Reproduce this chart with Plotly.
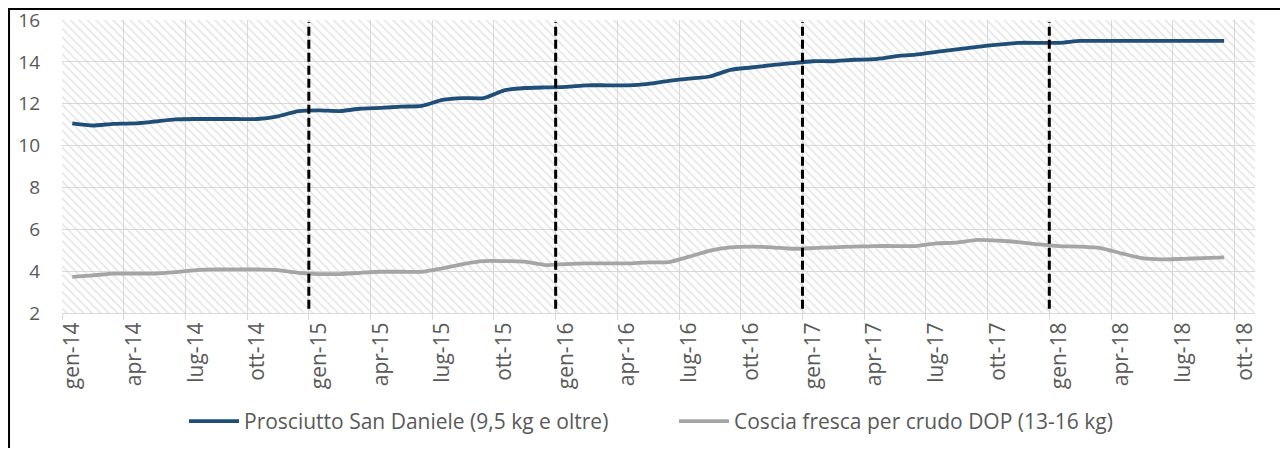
import plotly.graph_objects as go

# ---------------- data ----------------
month_names = ["gen", "feb", "mar", "apr", "mag", "giu", "lug", "ago", "set", "ott", "nov", "dic"]
first_year = 14
axis_slots = 58          # gen-14 ... ott-18 on the category axis

san_daniele = [
    11.06, 10.96, 11.04, 11.06, 11.15, 11.25, 11.27, 11.27, 11.27, 11.27, 11.40, 11.65,
    11.68, 11.65, 11.76, 11.80, 11.86, 11.90, 12.18, 12.27, 12.27, 12.64, 12.75, 12.78,
    12.80, 12.88, 12.88, 12.88, 12.95, 13.09, 13.20, 13.30, 13.62, 13.73, 13.84, 13.94,
    14.03, 14.03, 14.10, 14.13, 14.26, 14.35, 14.48, 14.60, 14.72, 14.82, 14.91, 14.91,
    14.91, 15.00, 15.00, 15.00, 15.00, 15.00, 15.00, 15.00, 15.00,
]
coscia = [
    3.73, 3.80, 3.88, 3.88, 3.88, 3.95, 4.05, 4.08, 4.08, 4.08, 4.05, 3.92,
    3.86, 3.86, 3.92, 3.97, 3.97, 3.97, 4.13, 4.34, 4.48, 4.48, 4.45, 4.29,
    4.34, 4.37, 4.37, 4.37, 4.42, 4.43, 4.69, 4.98, 5.14, 5.17, 5.14, 5.07,
    5.10, 5.14, 5.17, 5.20, 5.20, 5.20, 5.33, 5.36, 5.49, 5.46, 5.39, 5.28,
    5.20, 5.17, 5.10, 4.85, 4.62, 4.56, 4.59, 4.62, 4.66,
]
series_names = ["Prosciutto San Daniele (9,5 kg e oltre)", "Coscia fresca per crudo DOP (13-16 kg)"]
series_colors = ["#1F4E79", "#A5A5A5"]
year_marks = ["gen-15", "gen-16", "gen-17", "gen-18"]
mark_span = [2.2, 15.9]

# category labels
categories = [f"{month_names[k % 12]}-{first_year + k // 12}" for k in range(axis_slots)]
idx = list(range(len(san_daniele)))
label_idx = list(range(0, axis_slots, 3))
label_txt = [categories[k] for k in label_idx]
boundaries = [k - 0.5 for k in label_idx]

FONT = "Open Sans"
TXT = "#595959"
GRID = "#D9D9D9"

fig = go.Figure()

# hatched plot-area background
fig.add_trace(go.Bar(
    x=[0.5], y=[1], width=[1], xaxis="x", yaxis="y",
    marker=dict(color="rgba(0,0,0,0)", line=dict(width=0),
                pattern=dict(shape="\\", fgcolor="#CDCDCD", bgcolor="rgba(0,0,0,0)",
                             size=6, solidity=0.3)),
    showlegend=False, hoverinfo="skip"))

for vals, name, col in zip([san_daniele, coscia], series_names, series_colors):
    fig.add_trace(go.Scatter(
        x=idx, y=vals, xaxis="x2", yaxis="y2", mode="lines", name=name,
        line=dict(color=col, width=3.8, shape="spline", smoothing=0.6)))

shapes = []
for lab in year_marks:
    xpos = categories.index(lab) - 0.5
    shapes.append(dict(type="line", xref="x2", yref="y2", x0=xpos, x1=xpos,
                       y0=mark_span[0], y1=mark_span[1],
                       line=dict(color="black", width=3, dash="9px,4px")))
# outer frame
shapes.append(dict(type="rect", xref="paper", yref="paper",
                   x0=-0.0444, x1=1.08, y0=-0.7, y1=1.0375,
                   line=dict(color="black", width=2), fillcolor="rgba(0,0,0,0)", layer="above"))

fig.update_layout(
    width=1272, height=440,
    margin=dict(l=54, r=25, t=12, b=135, autoexpand=False),
    paper_bgcolor="white", plot_bgcolor="white",
    font=dict(family=FONT, color=TXT),
    showlegend=True,
    legend=dict(orientation="h", x=0.513, xanchor="center", y=-0.37, yanchor="middle",
                font=dict(family=FONT, size=21, color=TXT), itemwidth=50,
                entrywidth=425, entrywidthmode="pixels",
                bgcolor="rgba(0,0,0,0)"),
    xaxis=dict(range=[0, 1], visible=False, fixedrange=True, automargin=False),
    yaxis=dict(range=[0, 1], visible=False, fixedrange=True, automargin=False),
    xaxis2=dict(overlaying="x", anchor="y2", range=[-0.5, axis_slots - 0.5], automargin=False,
                tickmode="array", tickvals=label_idx, ticktext=label_txt, tickangle=-90,
                tickfont=dict(family=FONT, size=21, color=TXT), ticklabeloverflow="allow",
                showgrid=False, ticks="", zeroline=False,
                showline=True, linecolor=GRID, linewidth=1,
                minor=dict(tickmode="array", tickvals=boundaries, showgrid=True, gridcolor=GRID,
                           gridwidth=1, ticks="outside", ticklen=6, tickcolor=GRID, tickwidth=1)),
    yaxis2=dict(overlaying="y", anchor="x2", range=[2, 16], dtick=2, tick0=2, automargin=False,
                showgrid=True, gridcolor=GRID, gridwidth=1, zeroline=False, showline=False,
                tickfont=dict(family=FONT, size=19, color=TXT), ticks="", ticklabelstandoff=21,
                ticklabeloverflow="allow"),
    shapes=shapes,
)

fig.write_html("out.html")
